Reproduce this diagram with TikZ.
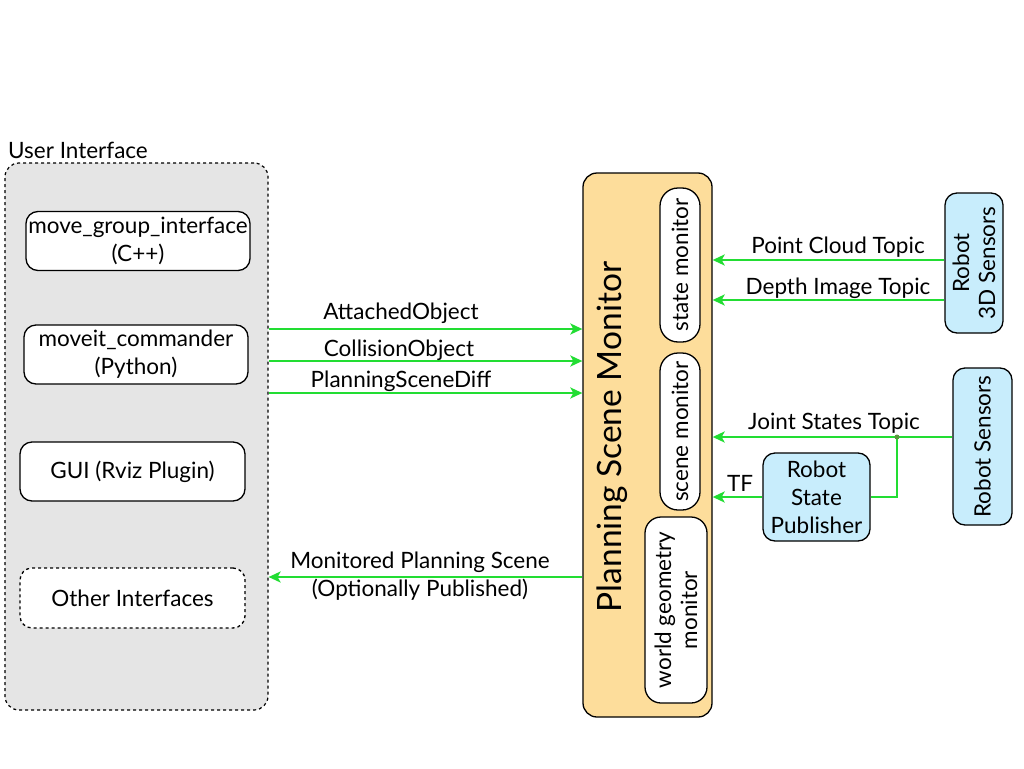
\documentclass[tikz,border=0pt]{standalone}
\usepackage{fontspec}
\setmainfont{Lato}
\usetikzlibrary{arrows.meta}
\definecolor{uigray}{RGB}{229,229,229}
\definecolor{psmorange}{RGB}{253,221,155}
\definecolor{sensblue}{RGB}{200,237,252}
\definecolor{flowgreen}{RGB}{34,221,51}
\definecolor{dotgreen}{RGB}{90,150,60}
\tikzset{
  txt/.style={font=\fontsize{22.5}{28}\selectfont},
  uibox/.style={draw=black, line width=1.3pt, fill=white, rounded corners=12pt,
    minimum width=224pt, minimum height=59pt, align=center, txt, inner sep=0pt},
  pill/.style={draw=black, line width=1.3pt, fill=white, rounded corners=18pt,
    rotate=90, align=center, txt, inner sep=0pt},
  sensor/.style={draw=black, line width=1.3pt, fill=sensblue, rounded corners=12pt,
    align=center, txt, inner sep=0pt},
  flow/.style={draw=flowgreen, line width=2.6pt, -{Stealth[length=12pt,width=11pt,inset=3pt]}},
  flowline/.style={draw=flowgreen, line width=2.6pt},
  lbl/.style={txt, inner sep=1pt}
}
\begin{document}
\begin{tikzpicture}[x=1pt,y=-1pt]
\useasboundingbox (0,0) rectangle (1024,768);

% user interface container
\node[draw=black, dashed, line width=1.2pt, fill=uigray, rounded corners=14pt,
  minimum width=263pt, minimum height=547pt, inner sep=0pt] (ui) at (136.5,436.5) {};
\node[txt, anchor=west, inner sep=0pt] (uititle) at (8,150) {User Interface};

\node[uibox] (mgi) at (138,241) {move\_group\_interface\\(C++)};
\node[uibox] (mc) at (136,354.5) {moveit\_commander\\(Python)};
\node[uibox, minimum width=225pt] (gui) at (132.5,471.5) {GUI (Rviz Plugin)};
\node[uibox, dashed, minimum width=225pt, minimum height=60pt] (oth) at (132.5,598) {Other Interfaces};

% planning scene monitor
\node[draw=black, line width=1.3pt, fill=psmorange, rounded corners=14pt,
  minimum width=129pt, minimum height=544pt, inner sep=0pt] (psm) at (647.5,445) {};
\node[rotate=90, font=\fontsize{33.5}{38}\selectfont, inner sep=0pt] (psmtitle) at (612,437) {Planning Scene Monitor};
\node[pill, minimum width=154pt, minimum height=40pt] (stm) at (680,265) {state monitor};
\node[pill, minimum width=157pt, minimum height=40pt] (scm) at (680,431.5) {scene monitor};
\node[pill, minimum width=186pt, minimum height=62pt, rounded corners=16pt,
  font=\fontsize{22.5}{26}\selectfont] (wgm) at (676,610) {world geometry\\monitor};

% sensors
\node[sensor, rotate=90, minimum width=140pt, minimum height=58pt,
  font=\fontsize{22.5}{26}\selectfont] (r3d) at (974,263) {Robot\\3D Sensors};
\node[sensor, rotate=90, minimum width=157pt, minimum height=59pt] (rs) at (982.5,446.5) {Robot Sensors};
\node[sensor, minimum width=107pt, minimum height=88pt] (rsp) at (816.5,497) {Robot\\State\\Publisher};

% message levels
\coordinate (yAO) at (0,329);
\coordinate (yCO) at (0,361);
\coordinate (yPD) at (0,393);
\coordinate (yMP) at (0,577);
\coordinate (yPC) at (0,260);
\coordinate (yDI) at (0,300);
\coordinate (yJS) at (0,437);
\coordinate (jn) at (897,437);

% user interface -> planning scene monitor
\draw[flow] (ui.east |- yAO) -- (psm.west |- yAO);
\draw[flow] (ui.east |- yCO) -- (psm.west |- yCO);
\draw[flow] (ui.east |- yPD) -- (psm.west |- yPD);
\node[lbl] (lAO) at (401,313) {AttachedObject};
\node[lbl] (lCO) at (399,350) {CollisionObject};
\node[lbl] (lPD) at (401,381) {PlanningSceneDiff};

% planning scene monitor -> user interface
\draw[flow] (psm.west |- yMP) -- (ui.east |- yMP);
\node[lbl] (lMP1) at (420,562) {Monitored Planning Scene};
\node[lbl] (lMP2) at (420,590) {(Optionally Published)};

% sensors -> planning scene monitor
\draw[flow] (r3d.north |- yPC) -- (psm.east |- yPC);
\draw[flow] (r3d.north |- yDI) -- (psm.east |- yDI);
\node[lbl] (lPC) at (838,247) {Point Cloud Topic};
\node[lbl] (lDI) at (838,288) {Depth Image Topic};

\draw[flow] (rs.north |- yJS) -- (psm.east |- yJS);
\node[lbl] (lJS) at (834,423) {Joint States Topic};
\draw[flowline] (jn) |- (rsp.east);
\fill[dotgreen] (jn) circle (2.5pt);

\draw[flow] (rsp.west) -- (psm.east |- rsp.west);
\node[lbl] (lTF) at (740,483) {TF};
\end{tikzpicture}
\end{document}
